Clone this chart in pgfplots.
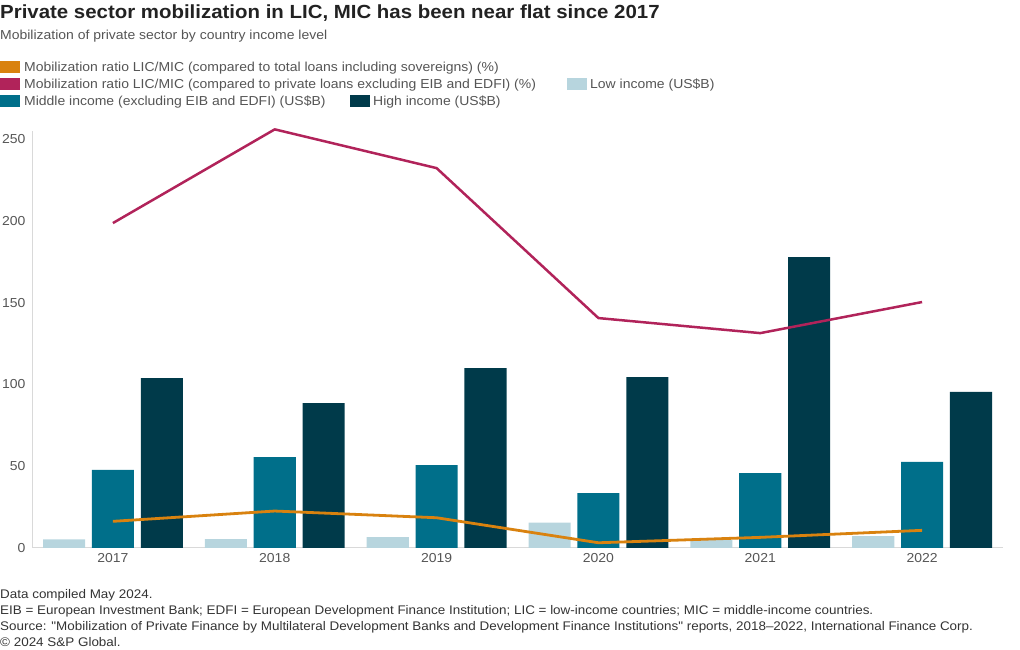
\documentclass[border=0pt]{standalone}
\usepackage{pgfplots}
\pgfplotsset{compat=1.18}
\usepackage{fontspec}
\setmainfont{Liberation Sans}[FakeStretch=1.075, Ligatures=TeXOff]
\definecolor{corange}{HTML}{D9820F}
\definecolor{cmag}{HTML}{B1235A}
\definecolor{clow}{HTML}{B7D5DE}
\definecolor{cmid}{HTML}{006F8A}
\definecolor{chigh}{HTML}{003A4A}
\definecolor{ctitle}{HTML}{222222}
\definecolor{ctext}{HTML}{555555}
\definecolor{cfoot}{HTML}{333333}
\begin{document}
\begin{tikzpicture}[x=1pt,y=1pt]
\path[use as bounding box] (0,0) rectangle (1020,650);
\node[anchor=base west, inner sep=0, font=\fontsize{19}{22}\selectfont\bfseries, text=ctitle] at (0,631) {Private sector mobilization in LIC, MIC has been near flat since 2017};
\node[anchor=base west, inner sep=0, font=\fontsize{13}{15}\selectfont, text=ctext] at (0,610) {Mobilization of private sector by country income level};
% legend
\fill[corange] (0,577) rectangle (20,589);
\node[anchor=base west, inner sep=0, font=\fontsize{13}{15}\selectfont, text=ctext] at (24,578) {Mobilization ratio LIC/MIC (compared to total loans including sovereigns) (\%)};
\fill[cmag] (0,560) rectangle (20,572);
\node[anchor=base west, inner sep=0, font=\fontsize{13}{15}\selectfont, text=ctext] at (24,561) {Mobilization ratio LIC/MIC (compared to private loans excluding EIB and EDFI) (\%)};
\fill[clow] (567,560) rectangle (587,572);
\node[anchor=base west, inner sep=0, font=\fontsize{13}{15}\selectfont, text=ctext] at (590,561) {Low income (US\$B)};
\fill[cmid] (0,543) rectangle (20,555);
\node[anchor=base west, inner sep=0, font=\fontsize{13}{15}\selectfont, text=ctext] at (24,544) {Middle income (excluding EIB and EDFI) (US\$B)};
\fill[chigh] (350,543) rectangle (370,555);
\node[anchor=base west, inner sep=0, font=\fontsize{13}{15}\selectfont, text=ctext] at (373,544) {High income (US\$B)};
% footer
\node[anchor=base west, inner sep=0, font=\fontsize{12.5}{15}\selectfont, text=cfoot] at (0,51) {Data compiled May 2024.};
\node[anchor=base west, inner sep=0, font=\fontsize{12.5}{15}\selectfont, text=cfoot] at (0,35) {EIB = European Investment Bank; EDFI = European Development Finance Institution; LIC = low-income countries; MIC = middle-income countries.};
\node[anchor=base west, inner sep=0, font=\fontsize{12.5}{15}\selectfont, text=cfoot] at (0,19) {Source: "Mobilization of Private Finance by Multilateral Development Banks and Development Finance Institutions" reports, 2018–2022, International Finance Corp.};
\node[anchor=base west, inner sep=0, font=\fontsize{12.5}{15}\selectfont, text=cfoot] at (0,3) {© 2024 S\&P Global.};
\begin{axis}[
  at={(32pt,102pt)}, anchor=south west,
  scale only axis, width=971pt, height=417pt,
  xmin=-0.5, xmax=5.5, ymin=0, ymax=255,
  axis x line=bottom, axis y line=left,
  axis line style={draw=black!15, -, line width=1pt},
  major tick length=0pt,
  xtick={0,1,2,3,4,5},
  xticklabels={2017,2018,2019,2020,2021,2022},
  ytick={0,50,100,150,200,250},
  /pgf/number format/assume math mode=true,
  tick label style={font=\fontsize{13}{15}\selectfont, text=ctext},
  yticklabel style={xshift=-3pt},
  xticklabel style={yshift=-2pt},
  clip=false,
]
\addplot[ybar, bar width=0.26, bar shift=-0.302, fill=clow, draw=none] coordinates {(0,5.3) (1,5.5) (2,6.7) (3,15.5) (4,5.0) (5,7.3)};
\addplot[ybar, bar width=0.26, bar shift=0, fill=cmid, draw=none] coordinates {(0,47.7) (1,55.6) (2,50.7) (3,33.6) (4,45.8) (5,52.6)};
\addplot[ybar, bar width=0.26, bar shift=0.302, fill=chigh, draw=none] coordinates {(0,103.9) (1,88.6) (2,110.0) (3,104.5) (4,177.9) (5,95.4)};
\addplot[corange, line width=2.8pt, line join=round, mark=none] coordinates {(0,16.3) (1,22.6) (2,18.5) (3,3.2) (4,6.5) (5,10.8)};
\addplot[cmag, line width=2.5pt, line join=round, mark=none] coordinates {(0,198.7) (1,256.0) (2,232.3) (3,140.6) (4,131.4) (5,150.4)};
\end{axis}
\end{tikzpicture}
\end{document}
